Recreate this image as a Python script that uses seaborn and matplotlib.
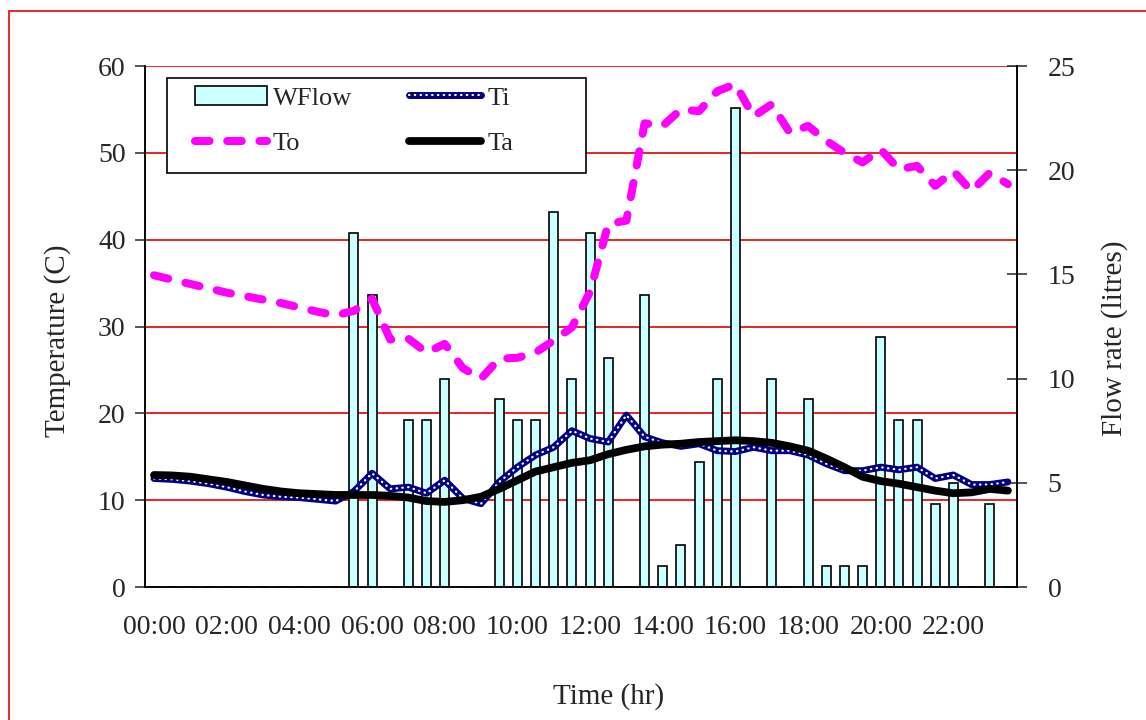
import numpy as np
import pandas as pd
import matplotlib
matplotlib.use("Agg")
import matplotlib.pyplot as plt
import matplotlib.patches as mpatches
import matplotlib.transforms as mtransforms
import seaborn as sns

# ---- data ----
times = [f"{h:02d}:{m:02d}" for h in range(24) for m in (0, 30)]

flow = [0, 0, 0, 0, 0, 0, 0, 0, 0, 0, 0, 17, 14, 0, 8, 8, 10, 0, 0, 9, 8, 8, 18, 10,
        17, 11, 0, 14, 1, 2, 6, 10, 23, 0, 10, 0, 9, 1, 1, 1, 12, 8, 8, 4, 5, 0, 4, 0]

t_in = [12.5, 12.4, 12.2, 11.9, 11.5, 11.0, 10.6, 10.4, 10.3, 10.1, 9.9, 11.0,
        13.1, 11.3, 11.5, 10.8, 12.3, 10.2, 9.6, 12.1, 13.8, 15.2, 16.1, 18.0,
        17.1, 16.7, 19.8, 17.3, 16.6, 16.2, 16.5, 15.7, 15.6, 16.1, 15.7, 15.7,
        15.2, 14.2, 13.4, 13.4, 13.8, 13.5, 13.8, 12.5, 12.9, 11.8, 11.8, 12.1]

t_out = [35.9, 35.4, 34.9, 34.4, 33.9, 33.5, 33.1, 32.7, 32.2, 31.7, 31.3, 31.8,
         33.2, 28.5, 28.6, 27.0, 28.0, 25.2, 24.0, 26.3, 26.4, 27.0, 28.4, 29.9,
         34.0, 41.8, 42.2, 53.4, 53.1, 55.0, 54.8, 57.1, 57.9, 54.2, 55.6, 52.3,
         53.1, 51.4, 50.0, 48.9, 50.4, 48.1, 48.5, 46.2, 47.9, 45.6, 47.7, 46.4]

t_amb = [12.9, 12.85, 12.7, 12.4, 12.1, 11.7, 11.3, 11.0, 10.8, 10.7, 10.6, 10.6,
         10.6, 10.5, 10.3, 9.9, 9.8, 10.0, 10.4, 11.3, 12.3, 13.3, 13.8, 14.3,
         14.6, 15.3, 15.8, 16.2, 16.4, 16.5, 16.7, 16.8, 16.9, 16.8, 16.6, 16.2,
         15.7, 14.8, 13.8, 12.7, 12.2, 11.9, 11.5, 11.1, 10.8, 10.9, 11.3, 11.1]

temp_ticks = [0, 10, 20, 30, 40, 50, 60]
flow_ticks = [0, 5, 10, 15, 20, 25]

df = pd.DataFrame({"time": times, "pos": np.arange(len(times)),
                   "flow": flow, "Ti": t_in, "To": t_out, "Ta": t_amb})

# ---- style ----
sns.set_style("white")
plt.rcParams["font.family"] = ["Liberation Serif", "DejaVu Serif"]
plt.rcParams["axes.linewidth"] = 1.1

fig = plt.figure(figsize=(11.46, 7.2), dpi=100)
ax = fig.add_axes([0.1265, 0.1847, 0.7609, 0.7236])   # flow (bars), right axis
ax2 = ax.twinx()                                       # temperatures, left axis

# bars
sns.barplot(data=df, x="time", y="flow", ax=ax, color="#ccffff", saturation=1,
            edgecolor="black", linewidth=1.2, width=0.5, zorder=2)

# red gridlines at temperature levels, kept under the bars
grid_tr = mtransforms.blended_transform_factory(ax.transAxes, ax2.transData)
for t in temp_ticks[1:]:
    ax.plot([0, 1], [t, t], transform=grid_tr, color="#e00000", lw=1.2, zorder=0.5)

# lines
sns.lineplot(data=df, x="pos", y="Ti", ax=ax2, color="#000080", lw=5.0,
             solid_joinstyle="round")
sns.lineplot(data=df, x="pos", y="Ti", ax=ax2, color="white", lw=1.6,
             linestyle=(0, (0.2, 2.4)), dash_capstyle="round")
sns.lineplot(data=df, x="pos", y="To", ax=ax2, color="#ff00ff", lw=5.8,
             linestyle=(0, (1.8, 2.2)), dash_capstyle="round")
sns.lineplot(data=df, x="pos", y="Ta", ax=ax2, color="black", lw=5.6,
             solid_capstyle="round", solid_joinstyle="round")
ti_line, ti_dots, to_line, ta_line = ax2.get_lines()

# ---- axes ----
n = len(times)
ax.set_xlim(-0.5, n - 0.5)
ax.set_ylim(flow_ticks[0], flow_ticks[-1])
ax2.set_ylim(temp_ticks[0], temp_ticks[-1])

ax.set_xticks(np.arange(0, n, 4), labels=times[::4])
ax.set_xticks(np.arange(n + 1) - 0.5, minor=True)
ax.tick_params(axis="x", which="major", length=0, pad=20, labelsize=20)
ax.tick_params(axis="x", which="minor", direction="out", length=7, width=1.1)

ax2.yaxis.tick_left()
ax2.yaxis.set_label_position("left")
ax.yaxis.tick_right()
ax.yaxis.set_label_position("right")
ax2.set_yticks(temp_ticks)
ax.set_yticks(flow_ticks)
ax2.tick_params(axis="y", direction="out", length=7, width=1.1, pad=7, labelsize=20)
ax.tick_params(axis="y", direction="inout", length=14, width=1.1, pad=15, labelsize=20)

for a in (ax, ax2):
    a.spines["top"].set_visible(False)
    for s in ("left", "right", "bottom"):
        a.spines[s].set_color("black")

ax.set_xlabel("Time (hr)", fontsize=21, va="center")
ax.xaxis.set_label_coords(0.5316, -0.211)
ax2.set_ylabel("Temperature (C)", fontsize=21, va="center", ha="center")
ax2.yaxis.set_label_coords(-0.1003, 0.472)
ax.set_ylabel("Flow rate (litres)", fontsize=21, va="center", ha="center")
ax.yaxis.set_label_coords(1.1124, 0.477)

# ---- legend ----
box = mpatches.Rectangle((0.0252, 0.7946), 0.4805, 0.1823, transform=ax2.transAxes,
                         facecolor="white", edgecolor="black", lw=1.2, zorder=4)
ax2.add_patch(box)
wflow_patch = mpatches.Patch(facecolor="#ccffff", edgecolor="black", lw=1.2)
ax2.legend([wflow_patch, to_line, (ti_line, ti_dots), ta_line],
           ["WFlow", "To", "Ti", "Ta"], ncol=2, frameon=False, loc="upper left",
           bbox_to_anchor=(0.0573, 0.9616), borderpad=0, borderaxespad=0,
           handlelength=2.73, handletextpad=0.23, columnspacing=2.16,
           labelspacing=0.83, fontsize=19)

# red frame round the figure (left and top edges visible)
fig.patches.append(mpatches.Rectangle((9 / 1146, -0.05), 1.0, 1 - 11 / 720 + 0.05,
                                      transform=fig.transFigure, fill=False,
                                      edgecolor="#e03030", lw=1.5))

fig.savefig("out.png", dpi=100)
